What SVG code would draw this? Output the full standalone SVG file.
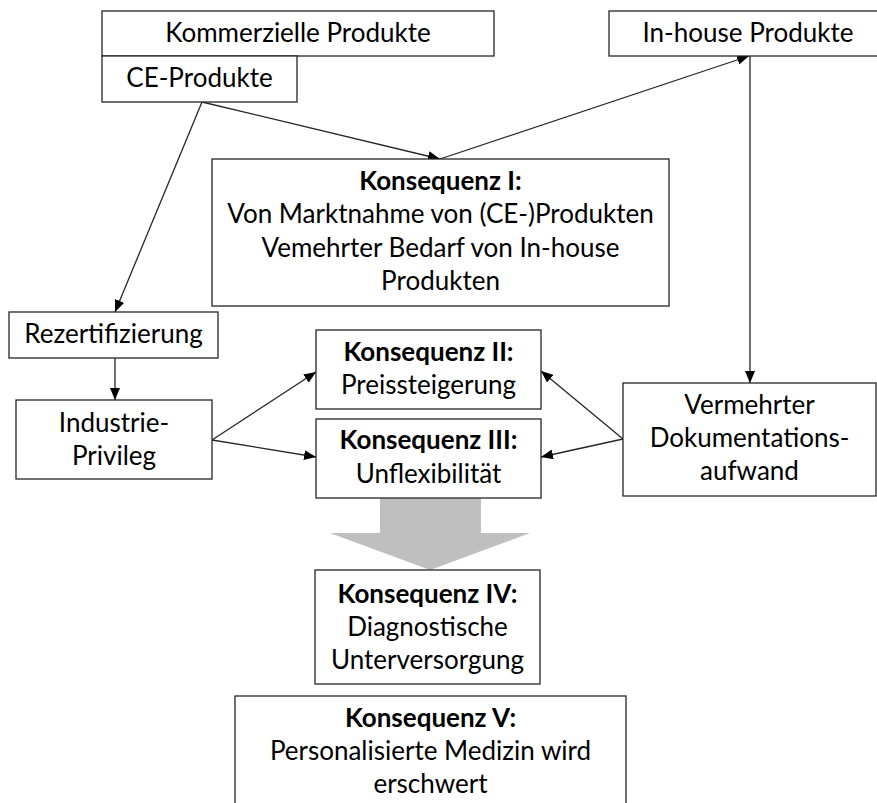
<svg xmlns="http://www.w3.org/2000/svg" width="877" height="803" viewBox="0 0 877 803">
<style>
.box{fill:#fff;stroke:#262626;stroke-width:1.3}
.t{font-family:Lato,"Open Sans","Liberation Sans",sans-serif;font-size:26px;fill:#000;text-anchor:middle}
.b{font-weight:bold}
.c{stroke:#262626;stroke-width:1.3;fill:none;marker-end:url(#ah)}
</style>
<defs>
<marker id="ah" markerUnits="userSpaceOnUse" markerWidth="12" markerHeight="10" viewBox="0 0 12 10" refX="12" refY="5" orient="auto">
<path d="M0,0 L12,5 L0,10 Z" fill="#000"/>
</marker>
</defs>
<rect width="877" height="803" fill="#fff"/>
<g id="connectors">
<line class="c" x1="202" y1="102" x2="440" y2="159"/>
<line class="c" x1="440" y1="159" x2="749" y2="56"/>
<line class="c" x1="202" y1="102" x2="115" y2="312"/>
<line class="c" x1="115" y1="358" x2="115" y2="400"/>
<line class="c" x1="212" y1="440" x2="316" y2="372"/>
<line class="c" x1="212" y1="440" x2="316" y2="457"/>
<line class="c" x1="750" y1="56" x2="750" y2="383"/>
<line class="c" x1="623" y1="439" x2="541" y2="371"/>
<line class="c" x1="623" y1="439" x2="541" y2="457"/>
<polygon points="380,498 481,498 481,533 530,533 430,570 330,533 380,533" fill="#bfbfbf"/>
</g>
<g id="kommerziell">
<rect class="box" x="102" y="11" width="392" height="45"/>
<text class="t" x="298" y="42">Kommerzielle Produkte</text>
</g>
<g id="ce">
<rect class="box" x="102" y="56" width="195" height="46"/>
<text class="t" x="199.5" y="87">CE-Produkte</text>
</g>
<g id="inhouse">
<rect class="box" x="609" y="11" width="280" height="45"/>
<text class="t" x="748" y="42">In-house Produkte</text>
</g>
<g id="k1">
<rect class="box" x="212" y="159" width="457" height="147"/>
<text class="t b" x="440.5" y="190">Konsequenz I:</text>
<text class="t" x="440.5" y="223">Von Marktnahme von (CE-)Produkten</text>
<text class="t" x="440.5" y="257">Vemehrter Bedarf von In-house</text>
<text class="t" x="440.5" y="290">Produkten</text>
</g>
<g id="rezert">
<rect class="box" x="9" y="312" width="209" height="46"/>
<text class="t" x="113.5" y="343">Rezertifizierung</text>
</g>
<g id="industrie">
<rect class="box" x="16" y="400" width="196" height="79"/>
<text class="t" x="114" y="432">Industrie-</text>
<text class="t" x="114" y="465">Privileg</text>
</g>
<g id="k2">
<rect class="box" x="316" y="330" width="225" height="79"/>
<text class="t b" x="428.5" y="361">Konsequenz II:</text>
<text class="t" x="428.5" y="394">Preissteigerung</text>
</g>
<g id="k3">
<rect class="box" x="316" y="419" width="225" height="79"/>
<text class="t b" x="428.5" y="449">Konsequenz III:</text>
<text class="t" x="428.5" y="483">Unflexibilität</text>
</g>
<g id="vermehrt">
<rect class="box" x="623" y="383" width="253" height="113"/>
<text class="t" x="749.5" y="414">Vermehrter</text>
<text class="t" x="749.5" y="447">Dokumentations-</text>
<text class="t" x="749.5" y="480">aufwand</text>
</g>
<g id="k4">
<rect class="box" x="315" y="570" width="225" height="114"/>
<text class="t b" x="427.5" y="603">Konsequenz IV:</text>
<text class="t" x="427.5" y="636">Diagnostische</text>
<text class="t" x="427.5" y="669">Unterversorgung</text>
</g>
<g id="k5">
<rect class="box" x="235" y="696" width="391" height="120"/>
<text class="t b" x="430.5" y="727">Konsequenz V:</text>
<text class="t" x="430.5" y="760">Personalisierte Medizin wird</text>
<text class="t" x="430.5" y="793">erschwert</text>
</g>
</svg>
